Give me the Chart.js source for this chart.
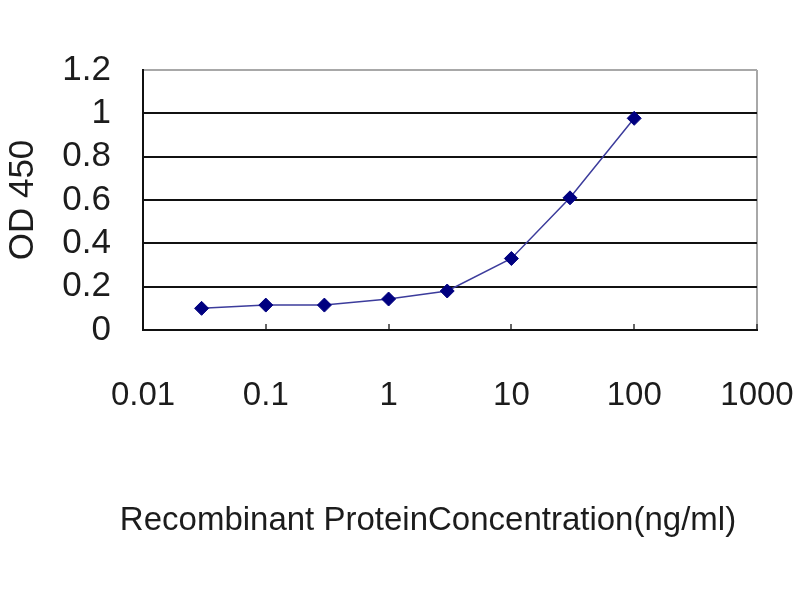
<!DOCTYPE html>
<html>
<head>
<meta charset="utf-8">
<script src="https://cdn.jsdelivr.net/npm/chart.js@4.4.0/dist/chart.umd.min.js"></script>
<style>
  html, body { margin: 0; padding: 0; background: #ffffff; }
  #wrap { width: 800px; height: 600px; }
</style>
</head>
<body>
<div id="wrap"><canvas id="chart" width="800" height="600"></canvas></div>
<script>
// Concentrations (ng/ml) and measured OD 450
const concentrations = [0.03, 0.1, 0.3, 1, 3, 10, 30, 100];
const odValues = [0.10, 0.115, 0.115, 0.143, 0.18, 0.33, 0.61, 0.977];

// Axis ticks
const xTicks = [0.01, 0.1, 1, 10, 100, 1000];
const xTickLabels = ['0.01', '0.1', '1', '10', '100', '1000'];
const yTicks = [0, 0.2, 0.4, 0.6, 0.8, 1, 1.2];
const yTickLabels = ['0', '0.2', '0.4', '0.6', '0.8', '1', '1.2'];

const xTitle = 'Recombinant ProteinConcentration(ng/ml)';
const yTitle = 'OD 450';

const FONT = "'Liberation Sans', Arial, sans-serif";
const TEXT = '#1c1c1c';

const points = concentrations.map((c, i) => ({ x: c, y: odValues[i] }));

// The x title in the original sits a bit left of the plot centre and is wider
// than the plot, so Chart.js' axis title would squeeze it; draw it here instead.
const xTitlePlugin = {
    id: 'xTitle',
    afterDraw(chart) {
        const { ctx, chartArea } = chart;
        ctx.save();
        ctx.font = '33px ' + FONT;
        ctx.fillStyle = TEXT;
        ctx.textAlign = 'center';
        ctx.textBaseline = 'middle';
        ctx.fillText(xTitle, (chartArea.left + chartArea.right) / 2 - 22, chartArea.bottom + 191);
        ctx.restore();
    }
};

new Chart(document.getElementById('chart'), {
    type: 'line',
    data: {
        datasets: [{
            label: yTitle,
            data: points,
            borderColor: '#3c3c9c',
            borderWidth: 1.5,
            tension: 0,
            pointStyle: 'rectRot',
            pointRadius: 7,
            pointBackgroundColor: '#000080',
            pointBorderColor: '#000080',
            pointBorderWidth: 1
        }]
    },
    plugins: [xTitlePlugin],
    options: {
        responsive: false,
        devicePixelRatio: 1,
        animation: false,
        layout: {
            padding: { left: 0, top: 70, right: 43, bottom: 57 }
        },
        plugins: {
            legend: { display: false },
            tooltip: { enabled: false }
        },
        scales: {
            x: {
                type: 'logarithmic',
                min: 0.01,
                max: 1000,
                afterBuildTicks: (scale) => {
                    scale.ticks = xTicks.map(v => ({ value: v }));
                },
                afterFit: (scale) => {
                    // keep the plot edges fixed; labels may overhang into the layout padding
                    scale.height = 213;
                    scale.paddingLeft = 0;
                    scale.paddingRight = 0;
                },
                border: { display: true, color: '#111111', width: 2 },
                grid: {
                    drawOnChartArea: true,
                    color: (ctx) => (ctx.tick && ctx.tick.value === 1000) ? '#a8a8a8' : 'rgba(0,0,0,0)',
                    lineWidth: 2,
                    tickColor: '#333333',
                    tickLength: -6,
                    tickWidth: 1.5
                },
                ticks: {
                    autoSkip: false,
                    maxRotation: 0,
                    padding: 52,
                    color: TEXT,
                    font: { family: FONT, size: 33 },
                    callback: (value) => xTickLabels[xTicks.indexOf(value)] ?? ''
                },
                title: { display: false }
            },
            y: {
                type: 'linear',
                min: 0,
                max: 1.2,
                afterBuildTicks: (scale) => {
                    scale.ticks = yTicks.map(v => ({ value: v }));
                },
                afterFit: (scale) => {
                    scale.width = 143;
                    scale.paddingTop = 0;
                    scale.paddingBottom = 0;
                },
                border: { display: true, color: '#111111', width: 2 },
                grid: {
                    drawTicks: false,
                    color: (ctx) => (ctx.tick && ctx.tick.value === 1.2) ? '#a8a8a8' : '#111111',
                    lineWidth: 2
                },
                ticks: {
                    autoSkip: false,
                    padding: 32,
                    color: TEXT,
                    font: { family: FONT, size: 35 },
                    callback: (value) => yTickLabels[yTicks.indexOf(value)] ?? ''
                },
                title: {
                    display: true,
                    text: yTitle,
                    color: TEXT,
                    padding: { top: 2, bottom: 0 },
                    font: { family: FONT, size: 35 }
                }
            }
        }
    }
});
</script>
</body>
</html>
